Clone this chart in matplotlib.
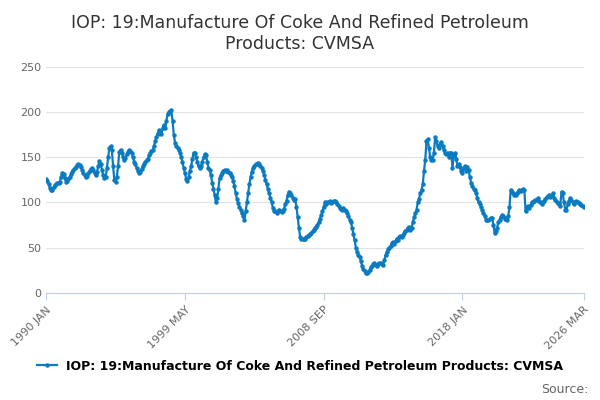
import numpy as np
import matplotlib.pyplot as plt

title = "IOP: 19:Manufacture Of Coke And Refined Petroleum\nProducts: CVMSA"
series_name = "IOP: 19:Manufacture Of Coke And Refined Petroleum Products: CVMSA"
tick_labels = ["1990 JAN", "1999 MAY", "2008 SEP", "2018 JAN", "2026 MAR"]
tick_months = [0, 112, 224, 336, 434]

# monthly values, 1990 Jan .. 2026 Mar
values = [
    126, 124, 120, 116, 114, 114, 117, 119, 120, 121, 122, 123,
    128, 133, 131, 127, 123, 124, 126, 128, 131, 134, 136, 138,
    139, 141, 142, 141, 139, 136, 133, 130, 128, 129, 132, 135,
    137, 138, 136, 132, 130, 134, 140, 146, 143, 136, 130, 127,
    128, 138, 150, 160, 162, 158, 140, 125, 123, 128, 140, 156,
    158, 155, 150, 147, 149, 153, 156, 158, 157, 155, 150, 145,
    142, 138, 135, 133, 134, 137, 140, 143, 145, 147, 148, 152,
    155, 157, 158, 162, 168, 172, 176, 180, 178, 176, 182, 186,
    182, 190, 198, 200, 201, 202, 190, 175, 166, 162, 160, 158,
    155, 150, 145, 138, 132, 126, 124, 128, 135, 140, 148, 155,
    155, 150, 145, 140, 138, 140, 145, 150, 153, 152, 145, 138,
    136, 130, 122, 115, 108, 100, 105, 115, 127, 130, 133, 135,
    136, 135, 136, 134, 133, 130, 128, 124, 118, 110, 104, 99,
    95, 92, 88, 85, 80, 90, 100, 110, 120, 128, 134, 138,
    140, 142, 143, 144, 142, 140, 138, 135, 130, 125, 120, 115,
    110, 105, 100, 94, 90, 90, 88, 90, 92, 90, 89, 91,
    93, 98, 102, 108, 112, 110, 108, 105, 103, 104, 95, 84,
    72, 62, 60, 60, 59, 60, 62, 63, 64, 65, 66, 68,
    70, 72, 73, 75, 78, 82, 86, 90, 95, 100, 98, 100,
    100, 101, 99, 100, 102, 101, 100, 98, 96, 94, 93, 92,
    94, 92, 90, 88, 85, 81, 78, 72, 65, 58, 50, 45,
    42, 40, 35, 30, 26, 24, 22, 22, 23, 25, 28, 30,
    32, 33, 31, 30, 32, 33, 33, 32, 31, 36, 42, 45,
    48, 50, 52, 55, 56, 54, 57, 60, 58, 62, 63, 62,
    64, 66, 68, 70, 72, 73, 70, 72, 78, 84, 88, 92,
    100, 104, 110, 114, 120, 135, 147, 168, 170, 160, 150, 147,
    147, 155, 172, 168, 162, 160, 165, 167, 162, 158, 155, 153,
    155, 150, 155, 155, 138, 152, 155, 148, 140, 142, 139, 135,
    133, 138, 140, 135, 139, 136, 128, 122, 118, 115, 114, 110,
    105, 100, 98, 95, 92, 88, 85, 81, 80, 80, 82, 83,
    83, 75, 66, 68, 72, 78, 81, 84, 86, 85, 82, 83,
    81, 85, 95, 114, 112, 110, 108, 108, 110, 112, 114, 113,
    114, 115, 114, 90, 95, 96, 94, 97, 100, 100, 102, 103,
    103, 105, 102, 100, 98, 100, 102, 104, 106, 107, 108, 106,
    108, 110, 105, 103, 100, 99, 98, 96, 112, 110, 100, 92,
    92, 98, 102, 105, 103, 100, 98, 100, 101, 100, 99, 98,
    97, 96, 95,
]

color = "#0b7bc1"
months = np.arange(len(values))

fig = plt.figure(figsize=(6, 4), dpi=100)
ax = fig.add_axes([0.077, 0.268, 0.896, 0.565])
ax.plot(months, values, color=color, lw=1.6, marker="o", ms=2.2, label=series_name)

ax.set_xlim(0, len(values) - 1)
ax.set_ylim(0, 250)
ax.set_yticks(range(0, 251, 50))
ax.grid(axis="y", color="#e3e3e3", lw=0.8)
ax.set_axisbelow(True)
for s in ["top", "right", "left"]:
    ax.spines[s].set_visible(False)
ax.spines["bottom"].set_color("#c0d0e0")
ax.tick_params(axis="y", length=0, labelsize=8, colors="#666666")
ax.tick_params(axis="x", length=5, color="#c0d0e0", labelsize=8, labelcolor="#666666")
ax.set_xticks(tick_months)
ax.set_xticklabels(tick_labels, rotation=45, ha="right", rotation_mode="anchor")

fig.text(0.5, 0.965, title, ha="center", va="top", fontsize=12.5, color="#333333")
fig.legend(loc="lower center", bbox_to_anchor=(0.5, 0.04), frameon=False,
           fontsize=9, handlelength=1.6, prop={"weight": "bold", "size": 9})
fig.text(0.98, 0.01, "Source:", ha="right", va="bottom", fontsize=9, color="#666666")

fig.savefig("out.png", dpi=100)
